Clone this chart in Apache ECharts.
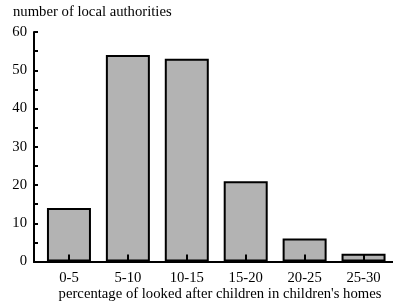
<!DOCTYPE html>
<html>
<head>
<meta charset="utf-8">
<script src="https://cdn.jsdelivr.net/npm/echarts@6/dist/echarts.min.js"></script>
<style>
  html, body { margin: 0; padding: 0; background: #fff; }
  #chart { width: 393px; height: 301px; }
</style>
</head>
<body>
<div id="chart"></div>
<script>
// bins of percentage, and how many local authorities fall in each
const bins = ['0-5', '5-10', '10-15', '15-20', '20-25', '25-30'];
const counts = [14, 54, 53, 21, 6, 2];
const yTicks = [0, 10, 20, 30, 40, 50, 60];

const font = 'Liberation Serif';
const fontSize = 14.7;
const barColor = '#b3b3b3';

let chart = echarts.init(document.getElementById('chart'));

const txt = { fontFamily: font, fontSize: fontSize, fontWeight: 'normal', color: '#000' };
const blackLine = { color: '#000', width: 2 };

var option = {
  animation: false,
  title: [
    { text: 'number of local authorities', left: 13, top: 5, padding: 0, textStyle: txt },
    {
      text: "percentage of looked after children in children's homes",
      left: 220, top: 287, padding: 0, textAlign: 'center', textStyle: txt
    }
  ],
  grid: [
    // frame (axes box), starts at the y axis
    { left: 34, right: 0, top: 32, bottom: 39.5 },
    // bars, shifted a bit right of the y axis and running past the right edge
    { left: 39.5, width: 357.5, top: 32, bottom: 39.5 }
  ],
  xAxis: [
    {
      gridIndex: 0, type: 'value', min: 0, max: 1,
      splitLine: { show: false },
      axisLine: { show: true, onZero: false, lineStyle: blackLine },
      axisTick: { show: false }, axisLabel: { show: false }
    },
    {
      gridIndex: 0, type: 'value', position: 'top', min: 0, max: 1,
      splitLine: { show: false },
      axisLine: { show: true, lineStyle: blackLine },
      axisTick: { show: false }, axisLabel: { show: false }
    },
    {
      gridIndex: 1, type: 'category', data: bins, z: 10,
      axisLine: { show: true, onZero: false, lineStyle: blackLine },
      axisTick: { show: true, inside: true, length: 7, alignWithLabel: true, lineStyle: blackLine },
      axisLabel: Object.assign({ margin: 9 }, txt)
    }
  ],
  yAxis: [
    {
      gridIndex: 0, type: 'value',
      min: yTicks[0], max: yTicks[yTicks.length - 1], interval: 10,
      splitLine: { show: false },
      axisLine: { show: true, lineStyle: blackLine },
      axisTick: { show: true, inside: true, length: 4, lineStyle: blackLine },
      minorTick: { show: true, splitNumber: 2, length: 4, lineStyle: blackLine },
      axisLabel: Object.assign({ margin: 7 }, txt)
    },
    {
      gridIndex: 1, type: 'value',
      min: yTicks[0], max: yTicks[yTicks.length - 1],
      axisLine: { show: false }, axisTick: { show: false },
      axisLabel: { show: false }, splitLine: { show: false }
    }
  ],
  series: [
    {
      type: 'bar',
      xAxisIndex: 2,
      yAxisIndex: 1,
      barWidth: 44,
      data: counts,
      itemStyle: { color: barColor, borderColor: '#000', borderWidth: 2 }
    }
  ]
};
chart.setOption(option);
</script>
</body>
</html>
